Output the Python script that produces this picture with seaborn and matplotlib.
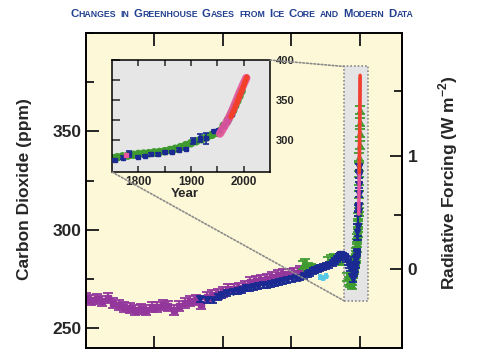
import numpy as np
import matplotlib.pyplot as plt
import seaborn as sns
from matplotlib.patches import Rectangle, ConnectionPatch
from matplotlib.offsetbox import TextArea, HPacker, AnchoredOffsetbox
from matplotlib.ticker import MultipleLocator, FixedLocator

sns.set_style("ticks")
plt.rcParams["font.family"] = ["Liberation Sans", "DejaVu Sans"]
plt.rcParams["font.weight"] = "bold"
plt.rcParams["mathtext.fontset"] = "custom"
plt.rcParams["mathtext.rm"] = "Liberation Sans:bold"
plt.rcParams["mathtext.bf"] = "Liberation Sans:bold"

# datos: CO2 (ppm) por anio
purple_year = [-8000, -7800, -7600, -7400, -7200, -7000, -6800, -6600, -6400, -6200,
               -6000, -5800, -5600, -5400, -5200, -5000, -4800, -4600, -4400, -4200,
               -4000, -3800, -3600, -3400, -3200, -3000, -2800, -2600, -2400, -2200,
               -2000, -1800, -1600, -1400, -1200, -1000, -800, -600, -400, -200]
purple_co2 = [265.5, 264.5, 265, 264, 265.5, 263, 262, 261, 260.5, 259.5,
              260, 259.5, 261, 261, 262, 261.5, 259.5, 261.5, 263, 264,
              264.5, 262.5, 266, 267, 267.5, 268.5, 270, 270, 270.5, 271.5,
              273.5, 274, 274.5, 275, 276, 277, 277.5, 277.5, 278, 279]

blue_year = [-3840, -3580, -3360, -3200, -3040, -2850, -2630, -2450, -2300, -2150,
             -2010, -1860, -1720, -1550, -1390, -1250, -1100, -950, -810, -650,
             -480, -330, -190, -50, 90, 180, 270, 360, 450, 540,
             650, 760, 880, 1015, 1090, 1160, 1220, 1270, 1320, 1380,
             1440, 1490, 1550, 1600, 1650, 1700, 1730,
             1755, 1771, 1782, 1800, 1812, 1824, 1837, 1851, 1864, 1877,
             1891, 1904, 1917, 1929, 1943, 1953, 1962, 1968, 1973, 1978]
blue_co2 = [265, 264.5, 264.5, 266, 267, 268, 268.7, 269, 269.5, 270.5,
            270.7, 271, 271.5, 272, 272.2, 272.5, 273, 273.5, 274, 274.5,
            275, 275.5, 275.8, 276.5, 277.5, 278.3, 279, 279.5, 280, 280.8,
            281, 281.5, 282, 283, 284, 285, 286, 287, 287.5, 287,
            286, 285, 283.5, 282, 280.5, 279, 278,
            275, 278, 282.5, 279, 280, 282, 282, 285, 285, 288,
            289, 299, 302, 302, 311, 312, 318, 323, 328, 332]
blue_err = [1.5] * 47 + [1.5, 1.5, 3.5, 1.5, 1.5, 1.5, 1.5, 1.5, 1.5, 1.5,
                         1.5, 4, 5, 7, 1.5, 1.5, 1.5, 1.5, 1.5, 1.5]

green_year = [-80, 0, 100, 200, 280, 850, 950, 1050, 1150, 1270,
              1530, 1600, 1640, 1700, 1720,
              1750, 1760, 1770, 1780, 1790, 1800, 1810, 1820, 1830, 1840,
              1850, 1860, 1870, 1880, 1890, 1900, 1910, 1920, 1930, 1940,
              1950, 1955, 1962, 1970, 1976, 1980, 1984, 1988, 1992, 1996]
green_co2 = [282, 283, 281, 280.5, 280, 284, 285, 285.5, 285, 284,
             276, 274, 273, 272, 274,
             277.5, 278.5, 279.5, 280.5, 281.5, 282.5, 283, 283.5, 284.5, 285,
             286, 287.5, 289, 291, 293.5, 296, 298.5, 301, 303.5, 306.5,
             309, 311, 318, 325, 332, 337, 343, 349, 355, 361]

cyan_year = [540, 650, 760]
cyan_co2 = [276, 275.5, 276.5]

pink_year = [1955, 1960, 1964, 1968, 1972, 1976, 1980, 1984, 1988, 1992, 1996, 2000, 2005]
pink_co2 = [308, 313.5, 318, 322.5, 327.5, 333, 339, 345.5, 352, 358.5, 364.5, 370.5, 377.5]

red_year = [1976, 1978, 1982, 1986, 1990, 1994, 1998, 2002, 2006]
red_co2 = [329, 332, 338, 344.5, 351, 357.5, 364.5, 371.5, 378.5]

ZOOM_X = (1420, 2310)
ZOOM_Y = (264, 383)

C_PURPLE = "#93379C"
C_BLUE = "#1B2A92"
C_GREEN = "#3F9B2F"
C_CYAN = "#55C8E8"
C_PINK = "#E8559E"
C_RED = "#F2402A"


def to_rf(c):
    return 5.35 * np.log(np.asarray(c, dtype=float) / 280.0)


def from_rf(f):
    return 280.0 * np.exp(np.asarray(f, dtype=float) / 5.35)


fig = plt.figure(figsize=(5, 3.6), dpi=100)
ax = fig.add_axes([0.172, 0.0333, 0.632, 0.875])
ax.set_facecolor("#FDF8D8")

# caja de zoom
ax.add_patch(Rectangle((ZOOM_X[0], ZOOM_Y[0]), ZOOM_X[1] - ZOOM_X[0], ZOOM_Y[1] - ZOOM_Y[0],
                       facecolor="#E4E4E4", edgecolor="#8A8A8A", ls=(0, (1, 1.2)), lw=1.2, zorder=1))

eb = dict(lw=0, elinewidth=1.3, capthick=1.3)
ax.errorbar(purple_year, purple_co2, yerr=2.6, fmt="s", color=C_PURPLE, capsize=3.5, ms=4.5, zorder=2, **eb)
ax.errorbar(green_year, green_co2, yerr=2, fmt="^", color=C_GREEN, capsize=3.5, ms=4, zorder=3, **eb)
ax.errorbar(cyan_year, cyan_co2, yerr=1, fmt="o", color=C_CYAN, capsize=1.5, ms=2.5, zorder=3.5, **eb)
ax.errorbar(blue_year, blue_co2, yerr=blue_err, fmt="v", color=C_BLUE, capsize=3, ms=4, zorder=4, **eb)
sns.lineplot(x=pink_year, y=pink_co2, ax=ax, color=C_PINK, lw=2.5, zorder=5)
sns.lineplot(x=red_year, y=red_co2, ax=ax, color=C_RED, lw=2.5, zorder=6)

ax.set_xlim(-8000, 3534)
ax.set_ylim(240, 400)
ax.set_xticks([-5500, -3000, -500, 2000])
ax.set_xticklabels([])
ax.set_yticks([250, 300, 350])
ax.yaxis.set_minor_locator(MultipleLocator(25))
ax.tick_params(axis="both", which="major", direction="in", length=9, width=1.4,
               labelsize=12.5, pad=3, top=True, right=False)
ax.tick_params(axis="y", which="minor", direction="in", length=5.5, width=1.4, right=False)
ax.set_xlabel("")
ax.set_ylabel("Carbon Dioxide (ppm)", fontsize=12.5, fontweight="bold")
ax.yaxis.set_label_coords(-0.171, 0.505)
for s in ax.spines.values():
    s.set_linewidth(1.4)
    s.set_color("black")

# eje derecho: forzamiento radiativo
sec = ax.secondary_yaxis("right", functions=(to_rf, from_rf))
sec.set_yticks([0, 1])
sec.yaxis.set_minor_locator(FixedLocator([0.5, 1.5]))
sec.tick_params(which="major", direction="in", length=9, width=1.4, labelsize=12.5, pad=4)
sec.tick_params(which="minor", direction="in", length=5.5, width=1.4)
sec.spines["right"].set_linewidth(1.4)
ax.text(1.146, 0.524, r"Radiative Forcing (W m$^{\mathbf{-2}}$)", transform=ax.transAxes,
        rotation=90, ha="center", va="center", fontsize=12.5, fontweight="bold")

# inset 1750-2050
ax_in = fig.add_axes([0.224, 0.5222, 0.316, 0.3111])
ax_in.set_facecolor("#E6E6E6")
sns.scatterplot(x=green_year, y=green_co2, ax=ax_in, color=C_GREEN, s=38, edgecolor="none", zorder=2)
ax_in.errorbar(blue_year, blue_co2, yerr=blue_err, fmt="s", color=C_BLUE, capsize=2,
               lw=0, elinewidth=1.2, capthick=1.2, ms=3.5, zorder=3)
ax_in.errorbar([1777], [281], yerr=1.5, fmt="s", color=C_PINK, capsize=1.5,
               lw=0, elinewidth=1, ms=3, zorder=3)
sns.lineplot(x=pink_year, y=pink_co2, ax=ax_in, color=C_PINK, lw=6, alpha=0.9, zorder=4)
sns.lineplot(x=red_year, y=red_co2, ax=ax_in, color=C_RED, lw=4, zorder=5)
ax_in.set_xlim(1750, 2050)
ax_in.set_ylim(260, 400)
ax_in.set_xticks([1800, 1900, 2000])
ax_in.xaxis.set_minor_locator(FixedLocator([1850, 1950]))
ax_in.set_yticks([300, 350, 400])
ax_in.yaxis.set_minor_locator(FixedLocator([275, 325, 375]))
ax_in.tick_params(axis="x", which="both", direction="in", length=4.5, width=1.1,
                  top=True, bottom=True, labelsize=8.5, pad=3)
ax_in.tick_params(axis="y", which="both", direction="in", length=6, width=1.1,
                  left=True, right=False, labelleft=False, labelright=True, labelsize=8, pad=4)
ax_in.set_ylabel("")
ax_in.set_xlabel("Year", fontsize=9.5, fontweight="bold")
ax_in.xaxis.set_label_coords(0.46, -0.14)
for s in ax_in.spines.values():
    s.set_linewidth(1.1)
    s.set_color("black")

# lineas de conexion
for xa, xb in [((1, 1), (ZOOM_X[0], ZOOM_Y[1])), ((0, 0), (ZOOM_X[0], ZOOM_Y[0]))]:
    con = ConnectionPatch(xyA=xa, coordsA=ax_in.transAxes, xyB=xb, coordsB=ax.transData,
                          color="#8A8A8A", ls=(0, (1, 1.2)), lw=1.2)
    fig.add_artist(con)

# titulo en versalitas
words = [("C", "HANGES"), ("", "IN"), ("G", "REENHOUSE"), ("G", "ASES"), ("", "FROM"),
         ("I", "CE"), ("C", "ORE"), ("", "AND"), ("M", "ODERN"), ("D", "ATA")]
title_color = "#22408F"
big = dict(fontsize=8.2, color=title_color, fontweight="bold")
small = dict(fontsize=6.3, color=title_color, fontweight="bold")
word_boxes = []
for cap, rest in words:
    parts = []
    if cap:
        parts.append(TextArea(cap, textprops=big))
    parts.append(TextArea(rest, textprops=small))
    word_boxes.append(HPacker(children=parts, align="baseline", pad=0, sep=0))
title_box = HPacker(children=word_boxes, align="baseline", pad=0, sep=3)
anchored = AnchoredOffsetbox(loc="center", child=title_box, frameon=False, pad=0, borderpad=0,
                             bbox_to_anchor=(0.484, 0.962), bbox_transform=fig.transFigure)
fig.add_artist(anchored)

plt.savefig("out.png", dpi=100)
plt.close()
